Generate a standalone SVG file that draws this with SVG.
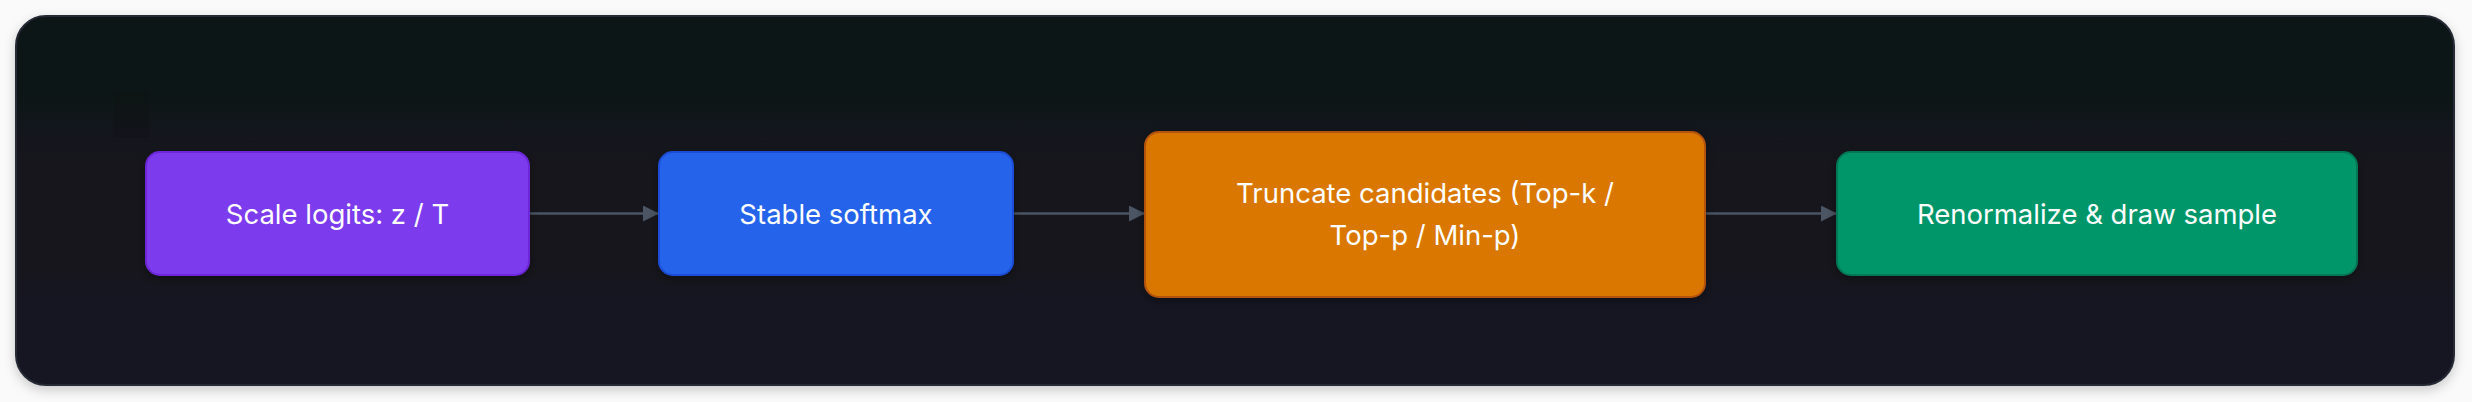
<svg xmlns="http://www.w3.org/2000/svg" width="2472" height="402" viewBox="0 0 2472 402">
<defs>
<linearGradient id="bg" x1="0" y1="0" x2="0" y2="1">
<stop offset="0" stop-color="#101216"/>
<stop offset="1" stop-color="#151623"/>
</linearGradient>
<filter id="outerShadow" x="-5%" y="-20%" width="110%" height="140%">
<feDropShadow dx="0" dy="4" stdDeviation="6" flood-color="#000" flood-opacity="0.2"/>
</filter>
<filter id="nodeShadow" x="-10%" y="-20%" width="120%" height="150%">
<feDropShadow dx="0" dy="3" stdDeviation="5" flood-color="#000" flood-opacity="0.35"/>
</filter>
<marker id="arrow" viewBox="0 0 10 10" refX="10" refY="5" markerWidth="16" markerHeight="16" markerUnits="userSpaceOnUse" orient="auto">
<path d="M0,0 L10,5 L0,10 z" fill="#4b5563"/>
</marker>
<style>
.node rect { stroke-width: 2; filter: url(#nodeShadow); }
.label { font-family: Inter, "Noto Sans", "Liberation Sans", sans-serif; font-size: 27.5px; fill: #ffffff; text-anchor: middle; dominant-baseline: central; }
.edge { stroke: #4b5563; stroke-width: 2.5; fill: none; marker-end: url(#arrow); }
</style>
</defs>
<rect x="0" y="0" width="2472" height="402" fill="#fafafa"/>
<rect x="16" y="16" width="2438" height="369" rx="30" fill="url(#bg)" stroke="#252a36" stroke-width="2" filter="url(#outerShadow)"/>
<rect x="114" y="92" width="35" height="46" fill="#000" opacity="0.07"/>
<g id="connectors">
<line class="edge" x1="529" y1="213.5" x2="659" y2="213.5"/>
<line class="edge" x1="1013" y1="213.5" x2="1145" y2="213.5"/>
<line class="edge" x1="1705" y1="213.5" x2="1837" y2="213.5"/>
</g>
<g id="node-scale" class="node">
<rect x="146" y="152" width="383" height="123" rx="14" fill="#7c3aed" stroke="#6d28d9"/>
<text class="label" x="337.5" y="213.5">Scale logits: z / T</text>
</g>
<g id="node-softmax" class="node">
<rect x="659" y="152" width="354" height="123" rx="14" fill="#2563eb" stroke="#1d4ed8"/>
<text class="label" x="836" y="213.5">Stable softmax</text>
</g>
<g id="node-truncate" class="node">
<rect x="1145" y="132" width="560" height="165" rx="14" fill="#d97706" stroke="#b45309"/>
<text class="label" x="1425" y="192.5">Truncate candidates (Top-k /</text>
<text class="label" x="1425" y="234.5">Top-p / Min-p)</text>
</g>
<g id="node-sample" class="node">
<rect x="1837" y="152" width="520" height="123" rx="14" fill="#059669" stroke="#047857"/>
<text class="label" x="2097" y="213.5">Renormalize &amp; draw sample</text>
</g>
</svg>
